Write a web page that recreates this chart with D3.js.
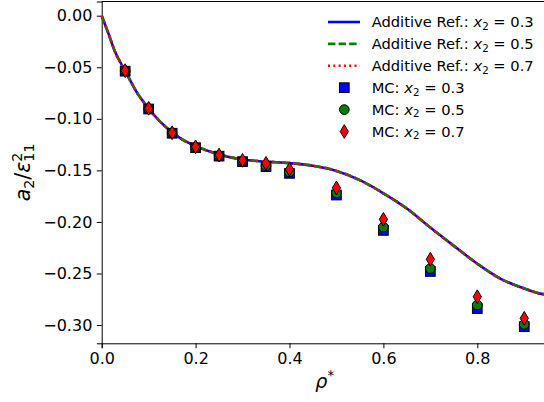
<!DOCTYPE html>
<html>
<head>
<meta charset="utf-8">
<script src="https://cdn.jsdelivr.net/npm/d3@7"></script>
<style>
  body { margin: 0; background: #fff; }
  svg { display: block; font-family: "DejaVu Sans", sans-serif; }
</style>
</head>
<body>
<svg width="544" height="402"></svg>
<script>
// reference curves (all three overlap)
const refRho = [0, 0.0142, 0.0284, 0.05, 0.075, 0.1, 0.125, 0.15, 0.175, 0.2, 0.25, 0.3, 0.35, 0.4,
                0.45, 0.5, 0.55, 0.6, 0.65, 0.7, 0.75, 0.8, 0.85, 0.9, 0.94, 0.95];
const ref03 = [0, -0.0171, -0.0350, -0.0535, -0.0745, -0.0900, -0.1030, -0.1130, -0.1210, -0.1265, -0.1345,
               -0.1395, -0.1415, -0.1430, -0.1455, -0.1505, -0.1595, -0.1722, -0.1870, -0.2055, -0.2232,
               -0.2405, -0.2552, -0.2645, -0.2700, -0.2705];
const ref05 = ref03.slice();
const ref07 = ref03.slice();

// MC points
const mcRho = [0.05, 0.1, 0.15, 0.2, 0.25, 0.3, 0.35, 0.4, 0.5, 0.6, 0.7, 0.8, 0.9];
const mc03 = [-0.0538, -0.0905, -0.1140, -0.1280, -0.1362, -0.1415, -0.1464, -0.1529, -0.1739, -0.2082, -0.2480, -0.2840, -0.3016];
const mc05 = [-0.0535, -0.0902, -0.1137, -0.1277, -0.1358, -0.1410, -0.1455, -0.1515, -0.1720, -0.2050, -0.2452, -0.2806, -0.2993];
const mc07 = [-0.0533, -0.0898, -0.1135, -0.1272, -0.1352, -0.1403, -0.1432, -0.1490, -0.1670, -0.1975, -0.2362, -0.2725, -0.2935];

const xTicks = [0, 0.2, 0.4, 0.6, 0.8];
const yTicks = [0, -0.05, -0.10, -0.15, -0.20, -0.25, -0.30];
const labels = ['0.3', '0.5', '0.7'];

const svg = d3.select('svg');
const mLeft = 101.7, mTop = 1.5, mBottom = 343.3;

const x = d3.scaleLinear().domain([0, 0.95]).range([mLeft, mLeft + 0.95 * 469.5]);
const y = d3.scaleLinear().domain([-0.3177, 0.01377]).range([mBottom, mTop]);

const fmtX = d3.format('.1f');
const fmtY = v => (v < 0 ? '\u2212' : '') + d3.format('.2f')(Math.abs(v));

// axes
const xAxis = svg.append('g')
  .attr('transform', `translate(0,${mBottom})`)
  .call(d3.axisBottom(x).tickValues(xTicks).tickFormat(fmtX).tickSize(4.9).tickPadding(4.5));
const yAxis = svg.append('g')
  .attr('transform', `translate(${mLeft},0)`)
  .call(d3.axisLeft(y).tickValues(yTicks).tickFormat(fmtY).tickSize(4.9).tickPadding(4.5));
[xAxis, yAxis].forEach(a => {
  a.selectAll('text').attr('font-size', 16).attr('fill', '#000').attr('font-family', 'DejaVu Sans');
  a.selectAll('line').attr('stroke', '#000');
  a.select('.domain').attr('stroke', '#000');
});
// top spine
svg.append('line')
  .attr('x1', mLeft).attr('x2', x(0.95))
  .attr('y1', mTop).attr('y2', mTop)
  .attr('stroke', '#000');

// reference lines
const line = d3.line()
  .x(d => x(d[0]))
  .y(d => y(d[1]))
  .curve(d3.curveMonotoneX);

const refs = [
  { vals: ref03, color: '#0000ff', dash: null },
  { vals: ref05, color: '#008000', dash: '7.4,3.2' },
  { vals: ref07, color: '#ff0000', dash: '2,3.3' }
];
refs.forEach(r => {
  svg.append('path')
    .datum(refRho.map((v, i) => [v, r.vals[i]]))
    .attr('d', line)
    .attr('fill', 'none')
    .attr('stroke', r.color)
    .attr('stroke-width', 2.6)
    .attr('stroke-dasharray', r.dash);
});

// markers
const ms = 9.7;
function drawMarker(g, kind, color) {
  if (kind === 'square') {
    g.append('rect').attr('x', -ms / 2).attr('y', -ms / 2).attr('width', ms).attr('height', ms);
  } else if (kind === 'circle') {
    g.append('circle').attr('r', ms / 2);
  } else {
    const h = ms * 0.707, w = ms * 0.424;
    g.append('path').attr('d', `M0,${-h}L${w},0L0,${h}L${-w},0Z`);
  }
  g.selectAll('*').attr('fill', color).attr('stroke', '#000').attr('stroke-width', 1);
}

const series = [
  { vals: mc03, color: '#0000ff', kind: 'square' },
  { vals: mc05, color: '#008000', kind: 'circle' },
  { vals: mc07, color: '#ff0000', kind: 'diamond' }
];
series.forEach(s => {
  mcRho.forEach((r, i) => {
    const g = svg.append('g').attr('transform', `translate(${x(r)},${y(s.vals[i])})`);
    drawMarker(g, s.kind, s.color);
  });
});

// legend
const legRows = [22, 43.9, 65.8, 87.7, 109.6, 131.5];
function legText(yy, prefix, val) {
  const t = svg.append('text')
    .attr('x', 371.7).attr('y', yy + 5.2)
    .attr('font-size', 14.7).attr('fill', '#000');
  t.append('tspan').text(prefix);
  t.append('tspan').attr('font-style', 'italic').text('x');
  t.append('tspan').attr('font-size', 10.3).attr('dy', 2.6).text('2');
  t.append('tspan').attr('dy', -2.6).text(' = ' + val);
}
refs.forEach((r, i) => {
  svg.append('line')
    .attr('x1', 328).attr('x2', 360)
    .attr('y1', legRows[i]).attr('y2', legRows[i])
    .attr('stroke', r.color).attr('stroke-width', 2.6)
    .attr('stroke-dasharray', r.dash);
  legText(legRows[i], 'Additive Ref.: ', labels[i]);
});
series.forEach((s, i) => {
  const g = svg.append('g').attr('transform', `translate(344.3,${legRows[i + 3]})`);
  drawMarker(g, s.kind, s.color);
  legText(legRows[i + 3], 'MC: ', labels[i]);
});

// axis labels
const xl = svg.append('text')
  .attr('x', (x(0.95) + mLeft) / 2).attr('y', 388)
  .attr('text-anchor', 'middle').attr('font-size', 19);
xl.append('tspan').attr('font-style', 'italic').text('\u03c1');
xl.append('tspan').attr('font-size', 13.3).attr('dy', -8).text('*');

const yl = svg.append('text')
  .attr('transform', `translate(30,${(mTop + mBottom) / 2}) rotate(-90)`)
  .attr('text-anchor', 'middle').attr('font-size', 20.5);
yl.append('tspan').attr('font-style', 'italic').text('a');
yl.append('tspan').attr('font-size', 14.3).attr('dy', 3.8).text('2');
yl.append('tspan').attr('dy', -3.8).text('/');
yl.append('tspan').attr('font-style', 'italic').text('\u03b5');
const sup = yl.append('tspan').attr('font-size', 14.3).attr('dy', -8.5).text('2');
const supW = sup.node().getComputedTextLength();
yl.append('tspan').attr('font-size', 14.3).attr('dx', -supW).attr('dy', 12.5).text('11');
</script>
</body>
</html>
